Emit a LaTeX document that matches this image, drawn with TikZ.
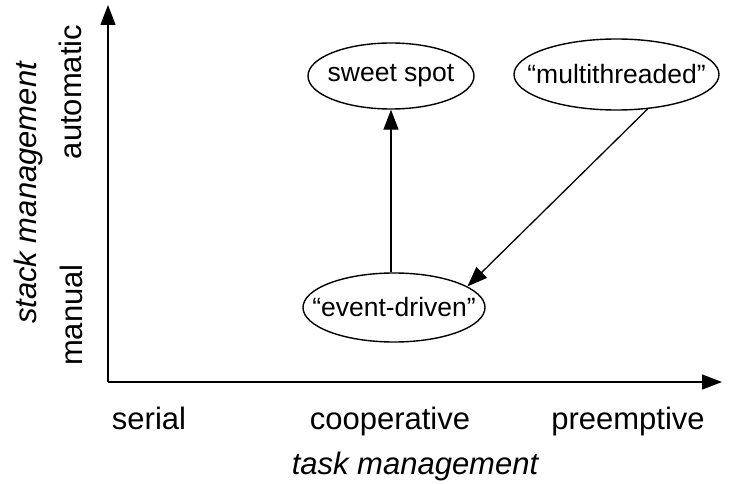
\documentclass[tikz,border=0pt]{standalone}
\usepackage{fontspec}
\setmainfont{Liberation Sans}
\usetikzlibrary{arrows.meta,shapes.geometric}
\newcommand{\zw}[1]{\makebox[0pt]{#1}}
\begin{document}
\begin{tikzpicture}[x=1pt,y=-1pt,
  tip/.style={-{Triangle[length=20pt,width=15pt]}},
  axisline/.style={line width=1.4pt,tip},
  conn/.style={line width=1.3pt,tip},
  oval/.style={draw,ellipse,line width=1.4pt,inner sep=0pt,font=\fontsize{26.5}{30}\selectfont},
  axlabel/.style={font=\fontsize{31}{36}\selectfont,anchor=base,inner sep=0pt},
  axtitle/.style={font=\fontsize{31}{36}\selectfont\itshape,anchor=base,inner sep=0pt}]
\useasboundingbox (0,0) rectangle (732,484);
% axes
\coordinate (origin) at (108,382);
\coordinate (ytip) at (108,5);
\coordinate (xtip) at (722,382);
\draw[axisline] (origin) -- (ytip);
\draw[axisline] (origin) -- (xtip);
% nodes
\node[oval,minimum width=166pt,minimum height=66pt] (ss) at (391,76) {\zw{sweet spot}};
\node[oval,minimum width=205pt,minimum height=71pt] (mt) at (616.5,74.5) {\zw{“multithreaded”}};
\node[oval,minimum width=182pt,minimum height=69pt] (ed) at (394,307.5) {\zw{“event-driven”}};
% connectors
\draw[conn] (ss.south |- ed.north) -- (ss.south);
\draw[conn] (mt.-48) -- (ed.16);
% x labels
\node[axlabel] (serial) at (149,429) {serial};
\node[axlabel] (coop) at (390,429) {cooperative};
\node[axlabel] (pre) at (628,429) {preemptive};
\node[axtitle] (task) at (415,474) {task management};
% y labels
\node[axlabel,rotate=90] (auto) at (81,92) {automatic};
\node[axlabel,rotate=90] (man) at (82,315) {manual};
\node[axtitle,rotate=90] (stack) at (36,193) {stack management};
\end{tikzpicture}
\end{document}
